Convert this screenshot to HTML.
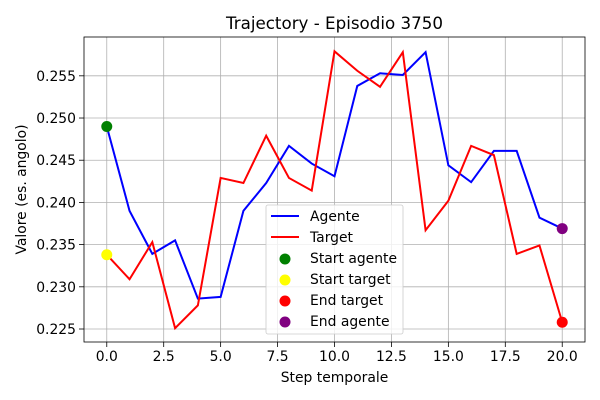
<!DOCTYPE html>
<html><head><meta charset="utf-8"><style>
body{margin:0;background:#fff}
svg{display:block;font-family:"DejaVu Sans","Liberation Sans",sans-serif}
</style></head><body>
<svg id="chart" width="600" height="400"></svg>
<script>
const steps=[0,1,2,3,4,5,6,7,8,9,10,11,12,13,14,15,16,17,18,19,20];
const agente=[0.2490,0.2390,0.2339,0.2355,0.2286,0.2288,0.2390,0.2423,0.2467,0.2446,0.2431,0.2538,0.2553,0.2551,0.2578,0.2444,0.2424,0.2461,0.2461,0.2382,0.2369];
const target=[0.2338,0.2309,0.2353,0.2251,0.2278,0.2429,0.2423,0.2479,0.2429,0.2414,0.2579,0.2556,0.2537,0.2578,0.2367,0.2402,0.2467,0.2456,0.2339,0.2349,0.2258];
const xTicks=[0,2.5,5,7.5,10,12.5,15,17.5,20];
const xTickLabels=["0.0","2.5","5.0","7.5","10.0","12.5","15.0","17.5","20.0"];
const yTicks=[0.225,0.230,0.235,0.240,0.245,0.250,0.255];
const yTickLabels=["0.225","0.230","0.235","0.240","0.245","0.250","0.255"];
const L=84,R=585,T=37,B=342,xMin=-1,xMax=21,yMin=0.22346,yMax=0.25960;
const X=v=>L+(v-xMin)/(xMax-xMin)*(R-L);
const Y=v=>B-(v-yMin)/(yMax-yMin)*(B-T);
const svg=document.getElementById('chart');
const NS='http://www.w3.org/2000/svg';
function mk(tag,a,parent){const e=document.createElementNS(NS,tag);for(const k in a)e.setAttribute(k,a[k]);(parent||svg).appendChild(e);return e;}
function txt(s,a){const e=mk('text',a);e.textContent=s;return e;}
xTicks.forEach((t,i)=>{
 const g=mk('line',{x1:X(t),x2:X(t),y1:T,y2:B,stroke:'#b0b0b0','stroke-width':0.8});
 
 
 mk('line',{x1:X(t),x2:X(t),y1:B,y2:B+5,stroke:'#000','stroke-width':0.8});
 const l=txt(xTickLabels[i],{x:X(t),y:B+19,'font-size':13.9,'text-anchor':'middle'});
 
 
});
yTicks.forEach((t,i)=>{
 const g=mk('line',{x1:L,x2:R,y1:Y(t),y2:Y(t),stroke:'#b0b0b0','stroke-width':0.8});
 
 
 mk('line',{x1:L-5,x2:L,y1:Y(t),y2:Y(t),stroke:'#000','stroke-width':0.8});
 const l=txt(yTickLabels[i],{x:L-8,y:Y(t)+5,'font-size':13.9,'text-anchor':'end'});
 
 
});
function line(vals,color,name){
 const p=mk('polyline',{points:steps.map((s,i)=>X(s)+','+Y(vals[i])).join(' '),fill:'none',stroke:color,'stroke-width':2});
 
 
}
line(agente,'#0000ff','agente-line');
line(target,'#ff0000','target-line');
function dot(x,y,c,name){
 const d=mk('circle',{cx:X(x),cy:Y(y),r:5.5,fill:c});
 
 
}
const n=steps.length-1;
dot(steps[0],agente[0],'#008000','start-agente-marker');
dot(steps[0],target[0],'#ffff00','start-target-marker');
dot(steps[n],target[n],'#ff0000','end-target-marker');
dot(steps[n],agente[n],'#800080','end-agente-marker');
mk('rect',{x:L,y:T,width:R-L,height:B-T,fill:'none',stroke:'#000','stroke-width':0.8});
const ti=txt('Trajectory - Episodio 3750',{x:(L+R)/2,y:29,'font-size':16.7,'text-anchor':'middle'});


const xt=txt('Step temporale',{x:(L+R)/2,y:382,'font-size':13.9,'text-anchor':'middle'});


const yt=txt('Valore (es. angolo)',{x:0,y:0,'font-size':13.9,'text-anchor':'middle',transform:'translate(26,'+((T+B)/2)+') rotate(-90)'});


const lg=mk('g',{});


mk('rect',{x:266,y:205,width:137,height:129,rx:2,fill:'#fff','fill-opacity':0.8,stroke:'#ccc','stroke-width':0.8},lg);
const entries=[['Agente','line','#0000ff'],['Target','line','#ff0000'],['Start agente','dot','#008000'],['Start target','dot','#ffff00'],['End target','dot','#ff0000'],['End agente','dot','#800080']];
entries.forEach((e,i)=>{
 const y=216+i*21;
 if(e[1]==='line')mk('line',{x1:271,x2:299,y1:y,y2:y,stroke:e[2],'stroke-width':2},lg);
 else mk('circle',{cx:285,cy:y+1,r:5.5,fill:e[2]},lg);
 const t=mk('text',{x:310,y:y+5,'font-size':13.9},lg);
 t.textContent=e[0];
 
 
});
</script>
</body></html>
